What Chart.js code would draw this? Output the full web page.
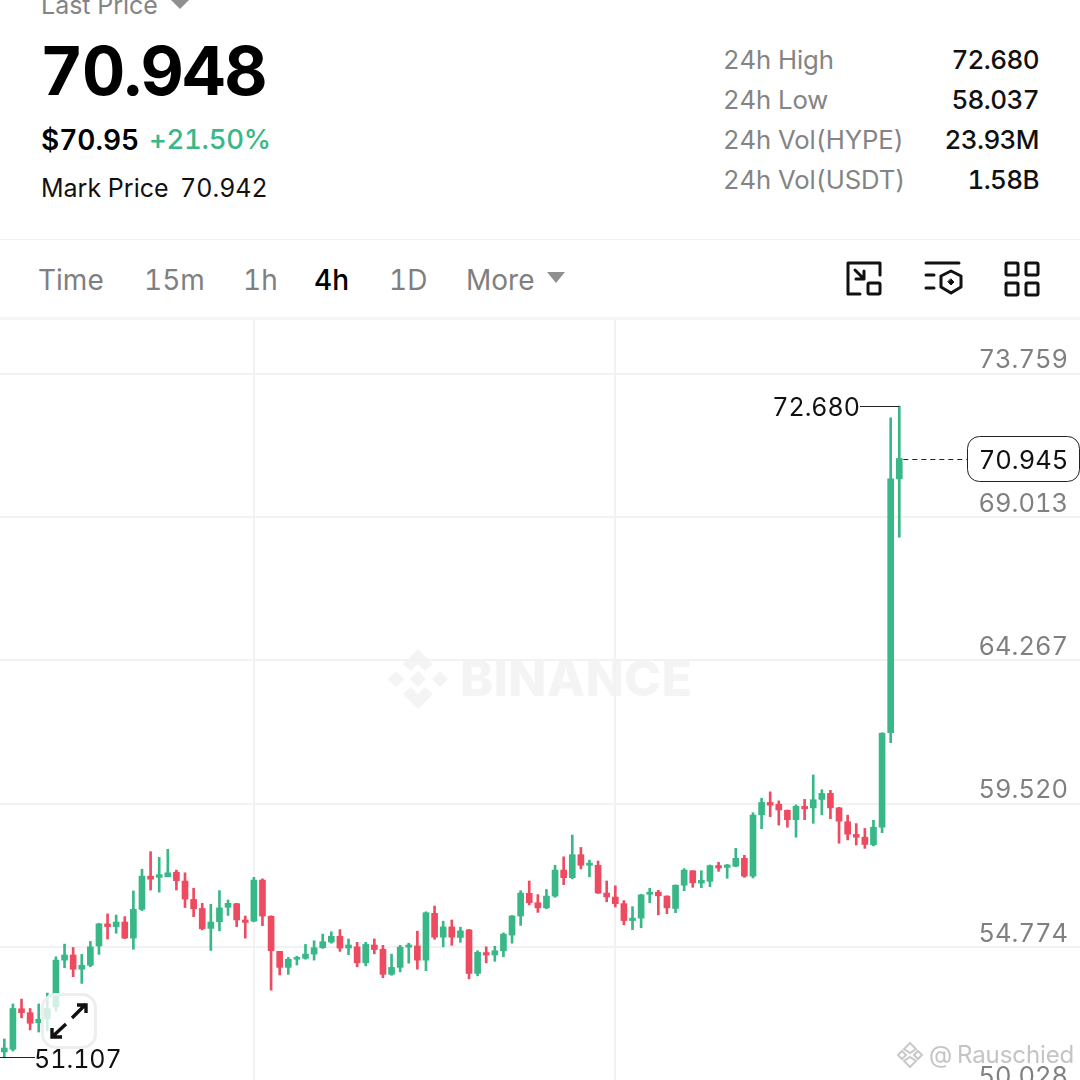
<!DOCTYPE html>
<html>
<head>
<meta charset="utf-8">
<title>HYPE/USDT 4h</title>
<script src="https://cdn.jsdelivr.net/npm/chart.js@4"></script>
<style>
  html, body { margin: 0; padding: 0; background: #fff; }
  #page { position: relative; width: 1080px; height: 1080px; overflow: hidden; font-family: Inter, sans-serif; font-variant-numeric: tabular-nums; color: #111; }
  #page div, #page svg, #page canvas { position: absolute; }
  .t { white-space: nowrap; line-height: 1; }
  .grey { color: #848484; }
  .stat { font-size: 25.7px; letter-spacing: -0.1px; }
  .val { font-size: 26px; font-weight: 500; right: 41px; letter-spacing: -0.6px; }
  .tab { top: 266px; font-size: 28px; color: #7f7f7f; }
  .rule { left: 0; width: 1080px; }
</style>
</head>
<body>
<div id="page">
  <div class="t grey" style="left:41px;top:-7px;font-size:25px">Last Price</div>
  <svg style="left:170px;top:0" width="20" height="10"><path d="M1 0H19L10 9Z" fill="#909090"/></svg>
  <div class="t" style="left:40px;top:37px;font-size:67px;font-weight:700;letter-spacing:-1.4px;color:#000">70.948</div>
  <div class="t" style="left:41px;top:126px;font-size:28px;font-weight:600;color:#000">$70.95</div>
  <div class="t" style="left:149px;top:126px;font-size:27.5px;font-weight:500;letter-spacing:-0.3px;color:#38b787">+21.50%</div>
  <div class="t" style="left:41px;top:176px;font-size:25px">Mark Price</div>
  <div class="t" style="left:180px;top:176px;font-size:25px">70.942</div>

  <div class="t grey stat" style="left:723px;top:47px">24h High</div>
  <div class="t val" style="top:47px">72.680</div>
  <div class="t grey stat" style="left:723px;top:87px">24h Low</div>
  <div class="t val" style="top:87px">58.037</div>
  <div class="t grey stat" style="left:723px;top:127px">24h Vol(HYPE)</div>
  <div class="t val" style="top:127px">23.93M</div>
  <div class="t grey stat" style="left:723px;top:167px">24h Vol(USDT)</div>
  <div class="t val" style="top:167px">1.58B</div>

  <div class="rule" style="top:239px;height:1px;background:#f0f0f0"></div>

  <div class="t tab" style="left:38px">Time</div>
  <div class="t tab" style="left:144px">15m</div>
  <div class="t tab" style="left:243px">1h</div>
  <div class="t tab" style="left:314px;color:#000;font-weight:500">4h</div>
  <div class="t tab" style="left:389px">1D</div>
  <div class="t tab" style="left:466px">More</div>
  <svg style="left:546px;top:272px" width="20" height="12"><path d="M1 0H19L10 11Z" fill="#909090"/></svg>

  <svg style="left:840px;top:255px" width="210" height="50" fill="none" stroke="#111" stroke-width="3" stroke-linecap="round" stroke-linejoin="round">
    <path d="M20 39H8V8H40V20"/>
    <path d="M15 15L24 24M24 16V24H16"/>
    <rect x="28" y="28" width="12" height="11" rx="1.5"/>
    <path d="M86 8H119M86 20H94M86 33H94"/>
    <path d="M111 16L121 21V32L111 38L101 32V21Z"/>
    <path d="M111 24L114 27L111 30L108 27Z" fill="#111" stroke-width="1"/>
    <rect x="166" y="8" width="12" height="12" rx="1.5"/>
    <rect x="186" y="8" width="12" height="12" rx="1.5"/>
    <rect x="166" y="28" width="12" height="12" rx="1.5"/>
    <rect x="186" y="28" width="12" height="12" rx="1.5"/>
  </svg>

  <div class="rule" style="top:317px;height:3px;background:#f5f5f5"></div>

  <svg style="left:388px;top:649px" width="62" height="60" fill="#f4f4f4">
    <path d="M30 0L45 15L37 22L30 15L23 22L15 15Z"/>
    <path d="M8 22L16 30L8 38L0 30Z"/>
    <path d="M30 22L38 30L30 38L22 30Z"/>
    <path d="M52 22L60 30L52 38L44 30Z"/>
    <path d="M30 60L15 45L23 38L30 45L37 38L45 45Z"/>
  </svg>
  <div class="t" style="left:460px;top:653px;font-size:50px;font-weight:800;color:#f4f4f4;letter-spacing:0.3px">BINANCE</div>

  <canvas id="chart" width="1080" height="780" style="left:0;top:320px"></canvas>

  <div style="left:41px;top:993px;width:50px;height:50px;border:3px solid #eee;border-radius:15px;background:rgba(255,255,255,0.78)"></div>
  <svg style="left:41px;top:993px" width="56" height="56" fill="none" stroke="#111" stroke-width="3.4">
    <path d="M31 25L45 11M36 12H45V20"/>
    <path d="M25 31L11 44M11 35V44H21"/>
  </svg>

  <svg style="left:896px;top:1041px" width="28" height="28" fill="none" stroke="#c9c9c9" stroke-width="2">
    <path d="M14 2L20 8L14 12L8 8Z"/><path d="M6 10L10 14L6 18L2 14Z"/><path d="M22 10L26 14L22 18L18 14Z"/><path d="M14 26L8 20L14 16L20 20Z"/>
  </svg>
  <div class="t" style="left:929px;top:1043px;font-size:24px;color:#c4c4c4">@</div>
  <div class="t" style="left:957px;top:1043px;font-size:24px;color:#c4c4c4;letter-spacing:-0.1px">Rauschied</div>
</div>

<script>
'use strict'

const opens = [51.30, 51.39, 52.73, 52.60, 52.27, 52.39, 52.79, 54.34, 54.51, 54.04, 54.17, 54.81, 55.54, 55.45, 55.60, 55.07, 56.02, 57.12, 57.08, 57.10,
  57.25, 56.96, 56.35, 56.05, 55.39, 55.61, 56.09, 56.21, 55.67, 55.63, 56.99, 55.79, 54.63, 54.10, 54.37, 54.40, 54.54, 54.75, 54.94, 55.13,
  54.74, 54.78, 54.25, 54.84, 54.70, 53.87, 54.10, 54.77, 54.81, 54.34, 55.89, 55.10, 55.44, 55.09, 55.34, 53.90, 54.59, 54.51, 54.65, 55.17,
  55.80, 56.55, 56.24, 56.07, 56.46, 57.32, 57.07, 57.83, 57.48, 57.48, 56.56, 56.43, 56.21, 55.65, 55.73, 56.52, 56.59, 56.46, 56.05, 56.82,
  57.30, 56.89, 56.95, 57.47, 57.41, 57.45, 57.71, 57.12, 59.15, 59.56, 59.50, 59.30, 58.99, 59.43, 59.38, 59.66, 59.86, 59.38, 58.92, 58.50,
  58.41, 58.16, 58.74, 61.87, 70.27]
const closes = [51.43, 52.74, 52.60, 52.25, 52.38, 52.74, 54.34, 54.51, 54.04, 54.17, 54.78, 55.54, 55.45, 55.60, 55.07, 56.02, 57.12, 57.02, 57.17, 57.23,
  56.97, 56.36, 56.04, 55.38, 55.60, 56.07, 56.22, 55.67, 55.59, 56.99, 55.80, 54.65, 54.10, 54.37, 54.43, 54.54, 54.75, 54.95, 55.13, 54.74,
  54.84, 54.25, 54.86, 54.69, 53.87, 54.10, 54.77, 54.84, 54.34, 55.91, 55.10, 55.44, 55.10, 55.31, 53.90, 54.60, 54.51, 54.65, 55.20, 55.80,
  56.56, 56.24, 56.07, 56.46, 57.32, 57.07, 57.83, 57.48, 57.55, 56.56, 56.43, 56.21, 55.65, 55.73, 56.50, 56.59, 56.47, 56.07, 56.82, 57.32,
  56.90, 56.98, 57.47, 57.39, 57.49, 57.71, 57.12, 59.14, 59.56, 59.47, 59.31, 58.99, 59.43, 59.35, 59.65, 59.86, 59.38, 58.94, 58.51, 58.41,
  58.17, 58.74, 61.85, 70.27, 70.945]
const highs = [51.73, 52.89, 53.05, 52.74, 52.89, 53.25, 54.45, 54.87, 54.76, 54.53, 54.96, 55.56, 55.87, 55.83, 55.78, 56.63, 57.35, 57.93, 57.74, 58.01,
  57.32, 57.23, 56.72, 56.22, 56.19, 56.64, 56.33, 56.22, 55.80, 57.08, 57.03, 55.81, 54.63, 54.43, 54.47, 54.86, 54.98, 55.20, 55.28, 55.35,
  55.04, 54.93, 54.93, 55.04, 54.83, 54.54, 54.83, 54.90, 55.30, 55.94, 56.13, 55.63, 55.67, 55.43, 55.36, 54.65, 54.78, 54.80, 55.24, 55.82,
  56.64, 56.96, 56.51, 56.68, 57.48, 57.76, 58.48, 58.07, 57.65, 57.62, 56.96, 56.80, 56.31, 56.11, 56.52, 56.72, 56.65, 56.47, 56.83, 57.37,
  57.30, 57.30, 57.49, 57.58, 57.51, 58.04, 57.81, 59.22, 59.70, 59.91, 59.61, 59.31, 59.48, 59.66, 60.47, 59.98, 59.96, 59.40, 59.14, 58.86,
  58.70, 58.97, 61.87, 72.29, 72.680]
const lows = [51.107, 51.33, 52.43, 52.03, 51.96, 52.00, 52.65, 54.09, 53.79, 53.57, 54.12, 54.53, 55.04, 55.23, 55.05, 54.70, 55.98, 56.66, 56.59, 57.10,
  56.66, 56.08, 55.78, 55.34, 54.66, 55.31, 55.82, 55.45, 55.07, 55.61, 55.48, 53.35, 53.85, 53.87, 54.18, 54.37, 54.34, 54.73, 54.90, 54.63,
  54.52, 54.12, 54.15, 54.55, 53.76, 53.84, 53.95, 54.24, 54.04, 53.99, 55.03, 54.78, 54.83, 54.93, 53.72, 53.82, 54.25, 54.30, 54.45, 54.90,
  55.49, 56.17, 55.92, 56.04, 56.42, 56.84, 57.03, 57.36, 57.10, 56.55, 56.27, 56.10, 55.51, 55.35, 55.41, 56.24, 55.84, 55.88, 55.91, 56.64,
  56.75, 56.74, 56.77, 57.28, 57.05, 57.43, 57.08, 57.06, 58.69, 59.09, 58.81, 58.74, 58.41, 58.99, 58.87, 59.15, 59.02, 58.21, 58.32, 58.15,
  58.04, 58.12, 58.56, 61.54, 68.34]

const priceTicks = [73.759, 69.013, 64.267, 59.520, 54.774, 50.028]
const dayTicks = [29, 71] // candle index of the two vertical grid lines

const highLabel = '72.680'
const lowLabel = '51.107'
const lastLabel = '70.945'
const GREEN = '#38b787'
const RED = '#ee4a60'
const GRID = '#f2f2f2'

const barColors = opens.map((o, i) => closes[i] >= o ? GREEN : RED)
const wickData = highs.map((h, i) => ({x: i, y: [lows[i], h]}))
const bodyData = opens.map((o, i) => ({x: i, y: [o, closes[i]]}))

// high, low and last price markers
const markers = {
  id: 'markers',
  afterDatasetsDraw (chart) {
    const ctx = chart.ctx
    const x = chart.scales.x
    const y = chart.scales.y
    const last = opens.length - 1
    ctx.save()
    ctx.font = '25px Inter'
    ctx.textBaseline = 'middle'
    ctx.fillStyle = '#111'
    ctx.strokeStyle = '#222'
    ctx.lineWidth = 1

    const hy = Math.round(y.getPixelForValue(parseFloat(highLabel))) + 0.5
    ctx.beginPath()
    ctx.moveTo(860, hy)
    ctx.lineTo(x.getPixelForValue(last), hy)
    ctx.stroke()
    ctx.textAlign = 'right'
    ctx.fillText(highLabel, 860, hy + 2)

    const ly = Math.round(y.getPixelForValue(parseFloat(lowLabel))) - 0.5
    ctx.beginPath()
    ctx.moveTo(0, ly)
    ctx.lineTo(35, ly)
    ctx.stroke()
    ctx.textAlign = 'left'
    ctx.fillText(lowLabel, 34, ly + 3)

    const py = Math.round(y.getPixelForValue(parseFloat(lastLabel))) + 0.5
    ctx.setLineDash([5, 4])
    ctx.beginPath()
    ctx.moveTo(x.getPixelForValue(last) + 4, py)
    ctx.lineTo(967, py)
    ctx.stroke()
    ctx.setLineDash([])
    ctx.fillStyle = '#fff'
    ctx.beginPath()
    ctx.roundRect(967.5, py - 23, 112, 45, 12)
    ctx.fill()
    ctx.stroke()
    ctx.fillStyle = '#111'
    ctx.textAlign = 'center'
    ctx.font = '25.5px Inter'
    ctx.fillText(lastLabel, 1023.5, py + 2)
    ctx.restore()
  }
}

const chart = new Chart(document.getElementById('chart').getContext('2d'), {
  type: 'bar',
  data: {
    datasets: [
      {data: wickData, backgroundColor: barColors, barThickness: 2, grouped: false, order: 2, borderWidth: 0},
      {data: bodyData, backgroundColor: barColors, barThickness: 6, grouped: false, order: 1, borderWidth: 0}
    ]
  },
  options: {
    responsive: false,
    animation: false,
    devicePixelRatio: 1,
    layout: {padding: 0},
    plugins: {legend: {display: false}, tooltip: {enabled: false}},
    scales: {
      x: {
        type: 'linear',
        offset: false,
        min: -0.5,
        max: 125,
        afterBuildTicks: scale => { scale.ticks = dayTicks.map(v => ({value: v})) },
        grid: {color: GRID, lineWidth: 2, drawTicks: false, offset: false},
        border: {display: false},
        ticks: {display: false}
      },
      y: {
        type: 'linear',
        position: 'right',
        min: 49.71,
        max: 75.53,
        afterBuildTicks: scale => { scale.ticks = priceTicks.map(v => ({value: v})) },
        afterFit: scale => {
          scale.width = 0
          scale.paddingTop = 0
          scale.paddingBottom = 0
        },
        grid: {color: GRID, lineWidth: 2, drawTicks: false},
        border: {display: false},
        ticks: {
          mirror: true,
          padding: -12,
          labelOffset: -13,
          color: '#808080',
          font: {family: 'Inter', size: 25.5},
          callback: v => v.toFixed(3)
        }
      }
    }
  },
  plugins: [markers]
})
</script>
</body>
</html>
